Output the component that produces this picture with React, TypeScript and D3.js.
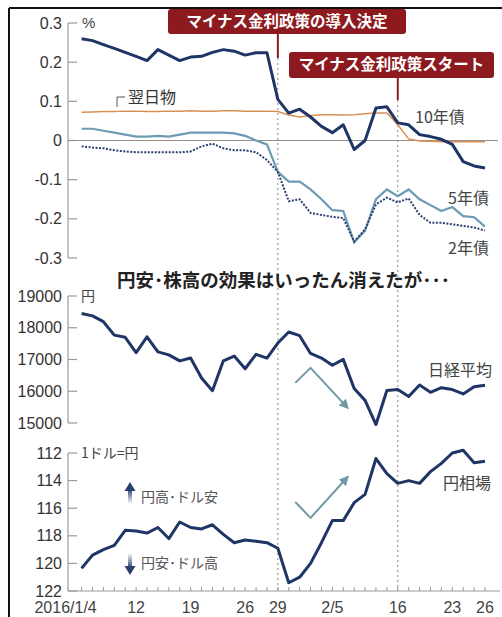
import React from "react";
import * as d3 from "d3";

const dates = ["1/4","1/5","1/6","1/7","1/8","1/12","1/13","1/14","1/15","1/18","1/19","1/20","1/21","1/22","1/25","1/26","1/27","1/28","1/29","2/1","2/2","2/3","2/4","2/5","2/8","2/9","2/10","2/12","2/15","2/16","2/17","2/18","2/19","2/22","2/23","2/24","2/25","2/26"];

const jgb10 = [0.26,0.255,0.245,0.235,0.225,0.215,0.204,0.232,0.218,0.204,0.213,0.215,0.225,0.232,0.228,0.218,0.224,0.224,0.105,0.07,0.08,0.06,0.036,0.02,0.04,-0.023,0.0,0.083,0.086,0.045,0.04,0.015,0.01,0.003,-0.01,-0.054,-0.065,-0.07];
const jgb5 = [0.03,0.03,0.025,0.02,0.015,0.01,0.01,0.012,0.01,0.015,0.02,0.02,0.02,0.02,0.018,0.012,0.0,-0.01,-0.08,-0.105,-0.105,-0.125,-0.15,-0.178,-0.18,-0.26,-0.23,-0.15,-0.125,-0.142,-0.125,-0.15,-0.165,-0.18,-0.17,-0.193,-0.196,-0.22];
const jgb2 = [-0.015,-0.018,-0.02,-0.025,-0.028,-0.03,-0.03,-0.03,-0.03,-0.03,-0.028,-0.015,-0.008,-0.02,-0.025,-0.025,-0.03,-0.05,-0.08,-0.155,-0.15,-0.185,-0.19,-0.195,-0.198,-0.258,-0.227,-0.163,-0.146,-0.158,-0.148,-0.19,-0.21,-0.21,-0.214,-0.218,-0.222,-0.23];
const overnight = [0.072,0.073,0.074,0.074,0.075,0.075,0.074,0.074,0.075,0.075,0.076,0.075,0.075,0.076,0.076,0.075,0.075,0.075,0.074,0.065,0.06,0.064,0.066,0.066,0.065,0.066,0.068,0.07,0.07,0.04,0.004,-0.001,-0.002,-0.003,-0.003,-0.003,-0.003,-0.003];
const nikkei = [18450,18374,18191,17767,17698,17219,17715,17240,17147,16956,17048,16416,16017,16958,17110,16708,17163,17041,17518,17865,17750,17191,17044,16819,17004,16085,15713,14952,16022,16054,15836,16196,15967,16111,16052,15916,16140,16188];
const usdjpy = [120.35,119.4,119.0,118.7,117.6,117.65,117.8,117.4,118.2,117.0,117.4,117.5,117.2,117.9,118.5,118.3,118.4,118.5,118.9,121.4,121.0,120.0,118.5,116.9,116.9,115.6,115.0,112.4,113.5,114.2,114.0,114.2,113.35,112.75,112.0,111.8,112.7,112.6];

const rateTicks = [0.3,0.2,0.1,0,-0.1,-0.2,-0.3];
const rateTickText = ["0.3","0.2","0.1","0","-0.1","-0.2","-0.3"];
const nikkeiTicks = [19000,18000,17000,16000,15000];
const yenTicks = [112,114,116,118,120,122];
const xTickDates = ["1/4","1/12","1/19","1/26","1/29","2/5","2/16","2/23","2/26"];
const xTickText = ["2016/1/4","12","19","26","29","2/5","16","23","26"];

// decorative trend arrows in data units (index, value)
const nikkeiArrow: [number, number][] = [[19.6,16264],[21,16736],[24.4,15478]];
const yenArrow: [number, number][] = [[19.6,115.55],[21,116.7],[24.4,113.74]];

const NUM = "'Liberation Sans', Arial, sans-serif";
const JP = "'Noto Sans CJK JP', 'Noto Sans', sans-serif";
const NAVY = "#1f3566";
const RED = "#8c1a1e";

export default function App() {
  const x = d3.scalePoint<string>().domain(dates).range([81.6, 485]);
  const xi = d3.scaleLinear().domain([0, dates.length - 1]).range([81.6, 485]);
  const yR = d3.scaleLinear().domain([-0.3, 0.3]).range([258, 23]);
  const yN = d3.scaleLinear().domain([15000, 19000]).range([423, 296]);
  const yY = d3.scaleLinear().domain([112, 122]).range([453, 591]);
  const axisX = 68;

  const mk = (vals: number[], y: d3.ScaleLinear<number, number>) =>
    d3.line<number>().x((_, i) => x(dates[i]) as number).y((v) => y(v))(vals) || "";
  const arrowPath = (pts: [number, number][], y: d3.ScaleLinear<number, number>) =>
    d3.line<[number, number]>().x((p) => xi(p[0])).y((p) => y(p[1]))(pts) || "";

  const xDec = x("1/29") as number;
  const xStart = x("2/16") as number;

  const yAxis = (ticks: number[], texts: string[], y: d3.ScaleLinear<number, number>, y0: number, y1: number) => (
    <g>
      <line x1={axisX} x2={axisX} y1={y0} y2={y1} stroke="#999" strokeWidth={1.2} />
      {ticks.map((t, i) => (
        <g key={i}>
          <line x1={axisX} x2={axisX + 9} y1={y(t)} y2={y(t)} stroke="#999" strokeWidth={1.2} />
          <text x={62} y={y(t)} dy="0.35em" textAnchor="end" fontFamily={NUM} fontSize={16} fill="#333">{texts[i]}</text>
        </g>
      ))}
    </g>
  );

  return (
    <div style={{ position: "fixed", left: 0, top: 0 }}>
      <svg width={502} height={617} style={{ display: "block", background: "#fff" }}>
        <defs>
          <marker id="ah" viewBox="0 0 10 10" refX="8" refY="5" markerWidth="5" markerHeight="5" orient="auto">
            <path d="M0,0 L10,5 L0,10 z" fill="#6f9aa6" />
          </marker>
          <linearGradient id="gUp" x1="0" y1="1" x2="0" y2="0">
            <stop offset="0" stopColor="#ffffff" />
            <stop offset="1" stopColor="#2b3f6e" />
          </linearGradient>
          <linearGradient id="gDn" x1="0" y1="0" x2="0" y2="1">
            <stop offset="0" stopColor="#ffffff" />
            <stop offset="1" stopColor="#2b3f6e" />
          </linearGradient>
        </defs>

        {/* frame */}
        <line x1={9} x2={502} y1={8} y2={8} stroke="#111" strokeWidth={2} />
        <line x1={9} x2={9} y1={8} y2={617} stroke="#111" strokeWidth={2} />

        {/* dotted event lines */}
        <line x1={xDec} x2={xDec} y1={58} y2={591} stroke="#888" strokeWidth={1} strokeDasharray="2,3" />
        <line x1={xStart} x2={xStart} y1={100} y2={591} stroke="#888" strokeWidth={1} strokeDasharray="2,3" />

        {/* axes */}
        {yAxis(rateTicks, rateTickText, yR, 23, 258)}
        {yAxis(nikkeiTicks, nikkeiTicks.map(String), yN, 296, 423)}
        {yAxis(yenTicks, yenTicks.map(String), yY, 453, 591)}
        <line x1={axisX} x2={500} y1={591} y2={591} stroke="#999" strokeWidth={1.2} />
        {dates.map((d) => (
          <line key={d} x1={x(d)} x2={x(d)} y1={591} y2={587} stroke="#999" strokeWidth={1} />
        ))}
        {xTickDates.map((d, i) => (
          <text key={d} x={(x(d) as number) + (i === 0 ? -16 : 0)} y={607} dy="0.35em" textAnchor="middle" fontFamily={NUM} fontSize={16} fill="#444">{xTickText[i]}</text>
        ))}

        {/* unit labels */}
        <text x={82} y={yR(0.3)} dy="0.35em" fontFamily={NUM} fontSize={15} fill="#444">%</text>
        <text x={81} y={yN(19000)} dy="0.35em" fontFamily={JP} fontSize={14} fill="#444">円</text>
        <text x={81} y={yY(112)} dy="0.35em" fontFamily={JP} fontSize={14} fill="#444">1ドル=円</text>

        {/* zero line */}
        <line x1={axisX} x2={498} y1={yR(0)} y2={yR(0)} stroke="#9a8f86" strokeWidth={1} />

        {/* rate lines */}
        <path d={mk(overnight, yR)} fill="none" stroke="#d99055" strokeWidth={1.5} />
        <path d={mk(jgb5, yR)} fill="none" stroke="#6d9ab5" strokeWidth={2.2} />
        <path d={mk(jgb2, yR)} fill="none" stroke="#2b3f6e" strokeWidth={2} strokeDasharray="2,1.5" />
        <path d={mk(jgb10, yR)} fill="none" stroke={NAVY} strokeWidth={3} strokeLinejoin="round" />

        {/* rate labels */}
        <path d="M117,107 V97 H125" fill="none" stroke="#555" strokeWidth={1} />
        <text x={128} y={97} dy="0.35em" fontFamily={JP} fontSize={16} fill="#333">翌日物</text>
        <text x={415} y={117} dy="0.35em" fontFamily={JP} fontSize={16} fill="#444">10年債</text>
        <text x={448} y={198} dy="0.35em" fontFamily={JP} fontSize={16} fill="#444">5年債</text>
        <text x={448} y={248} dy="0.35em" fontFamily={JP} fontSize={16} fill="#444">2年債</text>

        {/* headline */}
        <text x={117} y={281} dy="0.35em" fontFamily={JP} fontSize={18.5} fontWeight="bold" fill="#222">円安･株高の効果はいったん消えたが･･･</text>

        {/* nikkei */}
        <path d={mk(nikkei, yN)} fill="none" stroke={NAVY} strokeWidth={3} strokeLinejoin="round" />
        <text x={428} y={370} dy="0.35em" fontFamily={JP} fontSize={16} fill="#444">日経平均</text>
        <path d={arrowPath(nikkeiArrow, yN)} fill="none" stroke="#6f9aa6" strokeWidth={2} markerEnd="url(#ah)" />

        {/* yen */}
        <path d={mk(usdjpy, yY)} fill="none" stroke={NAVY} strokeWidth={3} strokeLinejoin="round" />
        <text x={443} y={483} dy="0.35em" fontFamily={JP} fontSize={16} fill="#444">円相場</text>
        <path d={arrowPath(yenArrow, yY)} fill="none" stroke="#6f9aa6" strokeWidth={2} markerEnd="url(#ah)" />

        {/* yen legend arrows */}
        <rect x={128} y={489} width={4} height={15} fill="url(#gUp)" />
        <path d="M124.5,491 L130,482 L135.5,491 z" fill="#2b3f6e" />
        <text x={141} y={497} dy="0.35em" fontFamily={JP} fontSize={14} fill="#555">円高･ドル安</text>
        <rect x={128} y={553} width={4} height={15} fill="url(#gDn)" />
        <path d="M124.5,566 L130,575 L135.5,566 z" fill="#2b3f6e" />
        <text x={141} y={563} dy="0.35em" fontFamily={JP} fontSize={14} fill="#555">円安･ドル高</text>

        {/* callouts */}
        <line x1={xDec} x2={xDec} y1={33} y2={58} stroke={RED} strokeWidth={2} />
        <rect x={168} y={9} width={238} height={25} rx={3} fill={RED} />
        <text x={287} y={22} dy="0.35em" textAnchor="middle" fontFamily={JP} fontSize={15.5} fontWeight="bold" fill="#fff">マイナス金利政策の導入決定</text>
        <line x1={xStart} x2={xStart} y1={77} y2={100} stroke={RED} strokeWidth={2} />
        <rect x={289} y={52} width={205} height={26} rx={3} fill={RED} />
        <text x={391.5} y={65} dy="0.35em" textAnchor="middle" fontFamily={JP} fontSize={15.5} fontWeight="bold" fill="#fff">マイナス金利政策スタート</text>
      </svg>
    </div>
  );
}
